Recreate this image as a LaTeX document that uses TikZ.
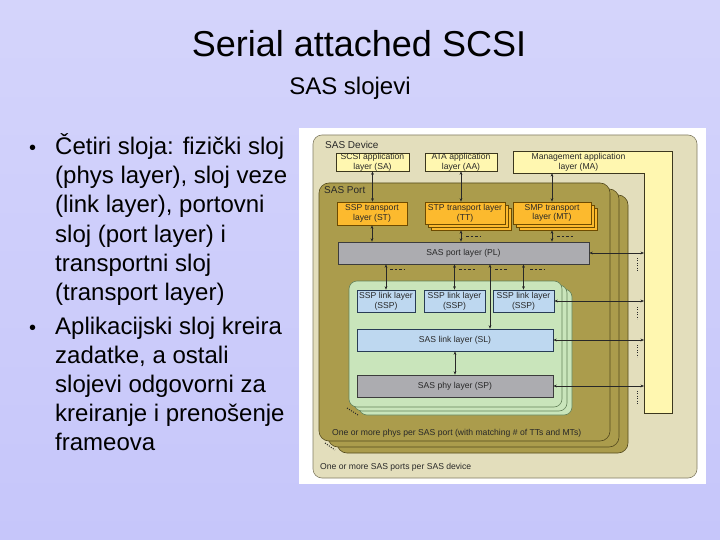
\documentclass[tikz,border=0pt]{standalone}
\usepackage{fontspec}
\setmainfont{Liberation Sans}
\usetikzlibrary{arrows.meta}
\definecolor{bgtop}{RGB}{212,212,251}
\definecolor{bgmid}{RGB}{162,162,238}
\definecolor{bgbot}{RGB}{198,198,250}
\definecolor{devfill}{RGB}{227,222,188}
\definecolor{devline}{RGB}{130,125,100}
\definecolor{olive}{RGB}{171,156,76}
\definecolor{oliveline}{RGB}{85,75,30}
\definecolor{greenf}{RGB}{201,229,187}
\definecolor{greenl}{RGB}{100,130,90}
\definecolor{bluef}{RGB}{190,216,240}
\definecolor{bluel}{RGB}{40,60,85}
\definecolor{grayf}{RGB}{172,172,176}
\definecolor{grayl}{RGB}{60,60,60}
\definecolor{orangef}{RGB}{252,186,46}
\definecolor{orangel}{RGB}{110,75,0}
\definecolor{yellowf}{RGB}{255,247,176}
\definecolor{yellowl}{RGB}{60,55,30}
\definecolor{ink}{RGB}{40,40,40}
\begin{document}
\begin{tikzpicture}[x=1pt,y=-1pt,
  small/.style={font=\fontsize{8.6}{9.6}\selectfont, text=ink, align=center, inner sep=0pt},
  lab/.style={font=\fontsize{10}{12}\selectfont, text=ink, inner sep=0pt, anchor=west},
  appbox/.style={small, draw=yellowl, fill=yellowf, line width=0.6pt},
  trbox/.style={small, draw=orangel, fill=orangef, line width=0.6pt},
  lkbox/.style={small, draw=bluel, fill=bluef, line width=0.6pt},
  gybox/.style={small, draw=grayl, fill=grayf, line width=0.6pt},
  portlayer/.style={draw=oliveline, fill=olive, line width=0.6pt, rounded corners=10pt},
  greenlayer/.style={draw=greenl, fill=greenf, line width=0.6pt, rounded corners=8pt},
  dar/.style={{Stealth[length=3.5pt,width=2.8pt]}-{Stealth[length=3.5pt,width=2.8pt]}, line width=0.5pt, draw=ink},
  dsh/.style={draw=ink, line width=0.7pt, dash pattern=on 2.5pt off 2pt},
  dts/.style={draw=ink, line width=1pt, dash pattern=on 1pt off 1.4pt},
  bul/.style={font=\fontsize{24}{29}\selectfont, anchor=base west, inner sep=0pt},
  dot/.style={font=\fontsize{20}{24}\selectfont, anchor=base west, inner sep=0pt},
]
\useasboundingbox (0,0) rectangle (720,540);
\shade[top color=bgtop, middle color=bgmid, bottom color=bgbot] (0,0) rectangle (720,540);

% titles
\node[font=\fontsize{36}{40}\selectfont, anchor=base, inner sep=0pt] (title) at (359,57) {Serial attached SCSI};
\node[font=\fontsize{24}{28}\selectfont, anchor=base, inner sep=0pt] (subtitle) at (350,95) {SAS slojevi};

% bullets
\node[dot] (b1) at (29,155) {•};
\node[bul] (l1) at (55,155) {Četiri sloja: fizički sloj};
\node[bul] (l2) at (55,184) {(phys layer), sloj veze};
\node[bul] (l3) at (55,213) {(link layer), portovni};
\node[bul] (l4) at (55,242) {sloj (port layer) i};
\node[bul] (l5) at (55,271) {transportni sloj};
\node[bul] (l6) at (55,300) {(transport layer)};
\node[dot] (b2) at (29,334) {•};
\node[bul] (m1) at (55,334) {Aplikacijski sloj kreira};
\node[bul] (m2) at (55,363) {zadatke, a ostali};
\node[bul] (m3) at (55,392) {slojevi odgovorni za};
\node[bul] (m4) at (55,421) {kreiranje i prenošenje};
\node[bul] (m5) at (55,450) {frameova};

% diagram frame
\fill[white] (299,128) rectangle (706,484);
\draw[devline, fill=devfill, line width=0.6pt, rounded corners=9pt] (313,135) rectangle (697,478);
\node[lab] (devlbl) at (325,145) {SAS Device};

% application layers
\draw[draw=yellowl, fill=yellowf, line width=0.6pt] (513,151) -- (672,151) -- (672,413) -- (644,413) -- (644,173) -- (513,173) -- cycle;
\node[small, minimum width=131pt, minimum height=22pt] (MA) at (578.5,162) {Management application\\layer (MA)};
\node[appbox, minimum width=73pt, minimum height=18pt] (SA) at (372.5,162) {SCSI application\\layer (SA)};
\node[appbox, minimum width=72pt, minimum height=18pt] (AA) at (461,162) {ATA application\\layer (AA)};

% port layers
\draw[portlayer] (337,195) rectangle (628,453);
\draw[portlayer] (328,189) rectangle (619,447);
\draw[portlayer] (319,183) rectangle (610,441);
\node[lab] (portlbl) at (324,190) {SAS Port};

% transport layers
\node[trbox, minimum width=70pt, minimum height=23pt] (ST) at (372,213.5) {SSP transport\\layer (ST)};
\node[trbox, minimum width=80pt, minimum height=22pt] (TT3) at (471,219) {};
\node[trbox, minimum width=80pt, minimum height=22pt] (TT2) at (468,216) {};
\node[trbox, minimum width=80pt, minimum height=22pt] (TT) at (465,213) {STP transport layer\\(TT)};
\node[trbox, minimum width=78pt, minimum height=22pt] (MT3) at (558,219) {};
\node[trbox, minimum width=78pt, minimum height=22pt] (MT2) at (555,216) {};
\node[trbox, minimum width=78pt, minimum height=22pt] (MT) at (552,213) {SMP transport\\layer (MT)};

% port layer
\node[gybox, minimum width=251pt, minimum height=22pt] (PL) at (463.5,253) {SAS port layer (PL)};

% link/phy layers
\draw[greenlayer] (359,289) rectangle (572,415);
\draw[greenlayer] (354,285) rectangle (567,411);
\draw[greenlayer] (349,281) rectangle (562,407);
\node[lkbox, minimum width=58pt, minimum height=22pt] (SSP1) at (386,301) {SSP link layer\\(SSP)};
\node[lkbox, minimum width=61pt, minimum height=22pt] (SSP2) at (454.5,301) {SSP link layer\\(SSP)};
\node[lkbox, minimum width=61pt, minimum height=22pt] (SSP3) at (523.5,301) {SSP link layer\\(SSP)};
\node[lkbox, minimum width=196pt, minimum height=22pt] (SL) at (455,340) {SAS link layer (SL)};
\node[gybox, minimum width=196pt, minimum height=22pt] (SP) at (455,386) {SAS phy layer (SP)};

% vertical connectors
\draw[dar] (SA.south) -- (SA.south |- ST.north);
\draw[dar] (AA.south) -- (AA.south |- TT.north);
\draw[dar] (MA.south -| MT.north) -- (MT.north);
\draw[dar] (ST.south) -- (ST.south |- PL.north);
\draw[dar] (TT3.south -| AA.south) -- (AA.south |- PL.north);
\draw[dar] (MT3.south -| MT.south) -- (MT.south |- PL.north);
\draw[dar] (PL.south -| SSP1.north) -- (SSP1.north);
\draw[dar] (PL.south -| SSP2.north) -- (SSP2.north);
\draw[dar] (PL.south -| SSP3.north) -- (SSP3.north);
\coordinate (lx) at (490,300);
\draw[dar] (PL.south -| lx) -- (SL.north -| lx);
\draw[dar] (SL.south) -- (SP.north);

% horizontal management connectors
\coordinate (mcol) at (644,300);
\draw[dar] (PL.east) -- (PL.east -| mcol);
\draw[dar] (SSP3.east) -- (SSP3.east -| mcol);
\draw[dar] (SL.east) -- (SL.east -| mcol);
\draw[dar] (SP.east) -- (SP.east -| mcol);

% dashes and dots
\draw[dsh] (466,236) -- (480,236);
\draw[dsh] (557,236) -- (573,236);
\draw[dsh] (390,269) -- (404,269);
\draw[dsh] (459,269) -- (475,269);
\draw[dsh] (495,269) -- (508,269);
\draw[dsh] (530,269) -- (544,269);
\draw[dts] (637,258) -- (637,271);
\draw[dts] (637,307) -- (637,319);
\draw[dts] (637,345) -- (637,357);
\draw[dts] (637,391) -- (637,404);
\draw[dts] (325,443) -- (335,450);
\draw[dts] (347,408) -- (358,415);

% captions
\node[small, anchor=west] (physlbl) at (332,433) {One or more phys per SAS port (with matching \# of TTs and MTs)};
\node[small, anchor=west] (portslbl) at (320,467) {One or more SAS ports per SAS device};
\end{tikzpicture}
\end{document}
